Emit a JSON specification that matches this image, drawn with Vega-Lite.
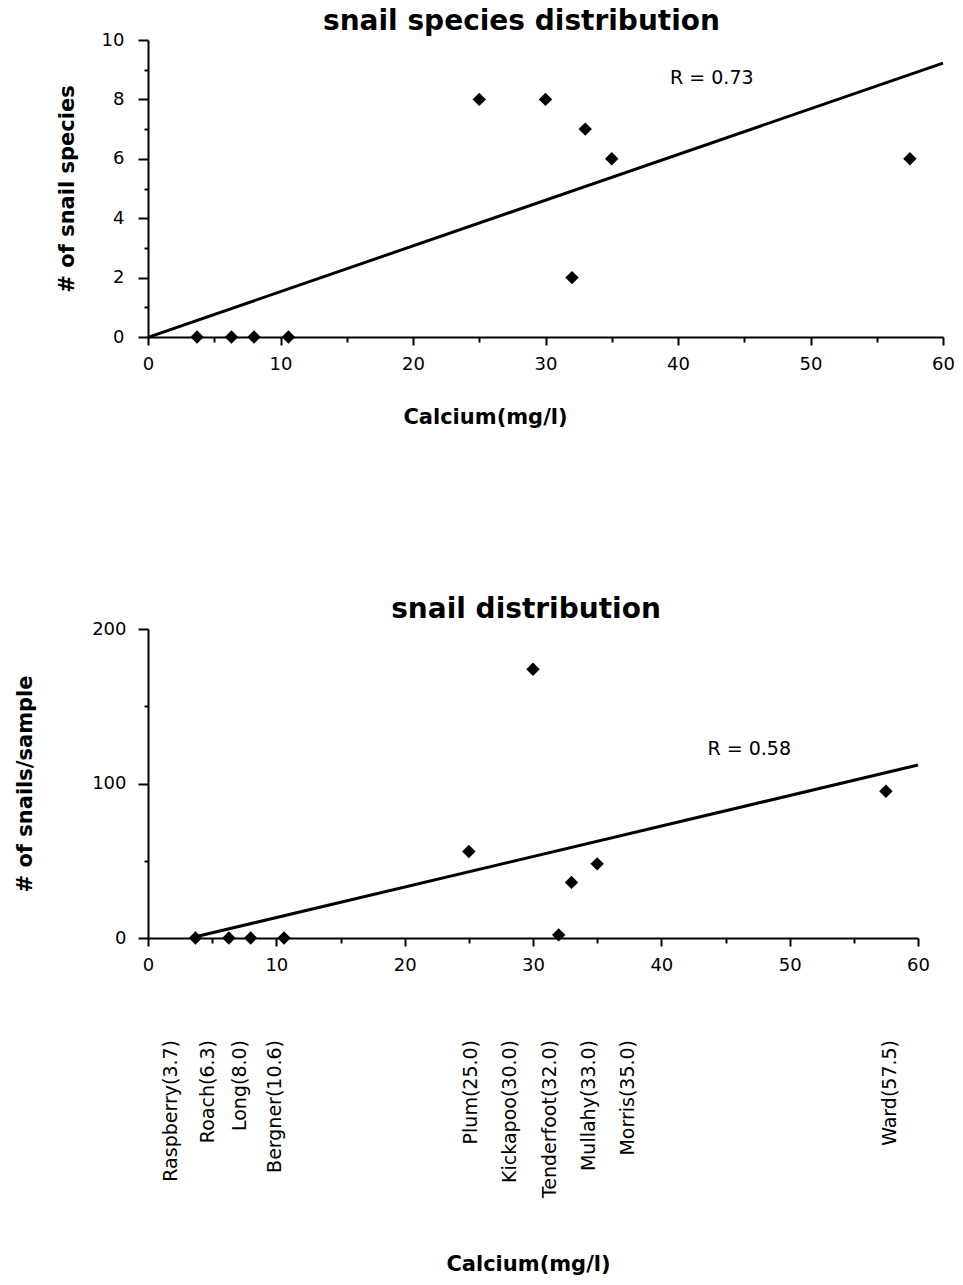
{
  "$schema": "https://vega.github.io/schema/vega-lite/v6.json",
  "background": "white",
  "padding": {"left": 14, "top": 8, "right": 5, "bottom": 5},
  "data": {
    "values": [
      {"lake": "Raspberry", "calcium": 3.7, "species": 0, "snails": 0},
      {"lake": "Roach", "calcium": 6.3, "species": 0, "snails": 0},
      {"lake": "Long", "calcium": 8.0, "species": 0, "snails": 0},
      {"lake": "Bergner", "calcium": 10.6, "species": 0, "snails": 0},
      {"lake": "Plum", "calcium": 25.0, "species": 8, "snails": 56},
      {"lake": "Kickapoo", "calcium": 30.0, "species": 8, "snails": 174},
      {"lake": "Tenderfoot", "calcium": 32.0, "species": 2, "snails": 2},
      {"lake": "Mullahy", "calcium": 33.0, "species": 7, "snails": 36},
      {"lake": "Morris", "calcium": 35.0, "species": 6, "snails": 48},
      {"lake": "Ward", "calcium": 57.5, "species": 6, "snails": 95}
    ]
  },
  "spacing": 292,
  "bounds": "flush",
  "vconcat": [
    {
      "width": 795,
      "height": 297,
      "title": {"text": "snail species distribution", "dx": -24, "offset": -5},
      "encoding": {
        "x": {
          "field": "calcium", "type": "quantitative",
          "scale": {"domain": [0, 60], "nice": false, "zero": false},
          "axis": {
            "title": "Calcium(mg/l)",
            "values": [0, 5, 10, 15, 20, 25, 30, 35, 40, 45, 50, 55, 60],
            "labelExpr": "datum.value % 10 === 0 ? datum.label : ''",
            "tickSize": {"condition": {"test": "datum.value % 10 !== 0", "value": 5}, "value": 8},
            "labelPadding": 10,
            "titleX": 337, "titleY": 80, "titleBaseline": "middle"
          }
        },
        "y": {
          "field": "species", "type": "quantitative",
          "scale": {"domain": [0, 10], "nice": false},
          "axis": {
            "title": "# of snail species",
            "values": [0, 1, 2, 3, 4, 5, 6, 7, 8, 9, 10],
            "labelExpr": "datum.value % 2 === 0 ? datum.label : ''",
            "tickSize": {"condition": {"test": "datum.value % 2 !== 0", "value": 4}, "value": 10},
            "labelPadding": 14,
            "titlePadding": 24
          }
        }
      },
      "layer": [
        {
          "transform": [{"regression": "species", "on": "calcium", "extent": [0, 60]}],
          "mark": {"type": "line", "color": "black", "strokeWidth": 3}
        },
        {
          "mark": {"type": "point", "shape": "diamond", "filled": true, "color": "black", "opacity": 1, "size": 180}
        },
        {
          "transform": [{"filter": "datum.lake === 'Ward'"}],
          "mark": {"type": "text", "text": "R = 0.73", "align": "left", "baseline": "middle", "font": "DejaVu Sans", "fontSize": 19, "color": "black"},
          "encoding": {"x": {"datum": 39.4}, "y": {"datum": 8.72}}
        }
      ]
    },
    {
      "width": 770,
      "height": 309,
      "title": {"text": "snail distribution", "dx": -7, "offset": -4},
      "encoding": {
        "x": {
          "field": "calcium", "type": "quantitative",
          "scale": {"domain": [0, 60], "nice": false, "zero": false},
          "axis": {
            "title": "Calcium(mg/l)",
            "values": [0, 5, 10, 15, 20, 25, 30, 35, 40, 45, 50, 55, 60],
            "labelExpr": "datum.value % 10 === 0 ? datum.label : ''",
            "tickSize": {"condition": {"test": "datum.value % 10 !== 0", "value": 5}, "value": 8},
            "labelPadding": 10,
            "titleX": 380, "titleY": 326, "titleBaseline": "middle"
          }
        },
        "y": {
          "field": "snails", "type": "quantitative",
          "scale": {"domain": [0, 200], "nice": false},
          "axis": {
            "title": "# of snails/sample",
            "values": [0, 50, 100, 150, 200],
            "labelExpr": "datum.value % 100 === 0 ? datum.label : ''",
            "tickSize": {"condition": {"test": "datum.value % 100 !== 0", "value": 4}, "value": 10},
            "labelPadding": 12,
            "titlePadding": 56
          }
        }
      },
      "layer": [
        {
          "transform": [{"regression": "snails", "on": "calcium", "extent": [3.7, 60]}],
          "mark": {"type": "line", "color": "black", "strokeWidth": 3}
        },
        {
          "mark": {"type": "point", "shape": "diamond", "filled": true, "color": "black", "opacity": 1, "size": 180}
        },
        {
          "transform": [{"filter": "datum.lake === 'Ward'"}],
          "mark": {"type": "text", "text": "R = 0.58", "align": "left", "baseline": "middle", "font": "DejaVu Sans", "fontSize": 19, "color": "black"},
          "encoding": {"x": {"datum": 43.6}, "y": {"datum": 122.3}}
        },
        {
          "transform": [{"calculate": "datum.lake + '(' + format(datum.calcium, '.1f') + ')'", "as": "label"}],
          "mark": {
            "type": "text", "angle": 270, "align": "right", "baseline": "middle",
            "font": "DejaVu Sans", "fontSize": 19, "color": "black",
            "dy": {"expr": "{'Raspberry': -24, 'Roach': -21, 'Long': -11, 'Bergner': -9, 'Plum': 2, 'Kickapoo': -23, 'Tenderfoot': -9, 'Mullahy': 17, 'Morris': 31, 'Ward': 4}[datum.lake]"}
          },
          "encoding": {"y": {"datum": -66}, "text": {"field": "label"}}
        }
      ]
    }
  ],
  "config": {
    "view": {"stroke": null},
    "font": "DejaVu Sans",
    "title": {"font": "DejaVu Sans", "fontSize": 28, "fontWeight": "bold", "color": "black", "anchor": "middle"},
    "axis": {
      "grid": false,
      "domainColor": "black", "domainWidth": 2,
      "tickColor": "black", "tickWidth": 2,
      "labelFont": "DejaVu Sans", "labelFontSize": 18, "labelColor": "black",
      "labelFlush": false, "labelOverlap": false,
      "titleFont": "DejaVu Sans", "titleFontSize": 21, "titleFontWeight": "bold", "titleColor": "black"
    }
  }
}
